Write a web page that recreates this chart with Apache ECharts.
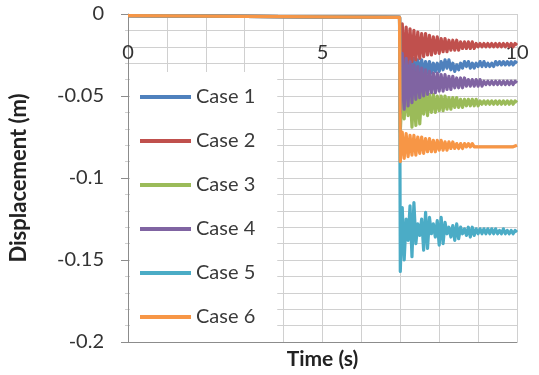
<!DOCTYPE html>
<html>
<head>
<meta charset="utf-8">
<script src="https://cdn.jsdelivr.net/npm/echarts@6/dist/echarts.min.js"></script>
<style>html,body{margin:0;padding:0;background:#fff}#c{width:539px;height:375px}</style>
</head>
<body>
<div id="c"></div>
<script>
var time = [0, 6.98,
 7.00,7.05,7.10,7.15,7.20,7.25,7.30,7.35,7.40,7.45,7.50,7.55,7.60,7.65,7.70,7.75,7.80,7.85,7.90,7.95,
 8.00,8.05,8.10,8.15,8.20,8.25,8.30,8.35,8.40,8.45,8.50,8.55,8.60,8.65,8.70,8.75,8.80,8.85,8.90,8.95,
 9.00,9.05,9.10,9.15,9.20,9.25,9.30,9.35,9.40,9.45,9.50,9.55,9.60,9.65,9.70,9.75,9.80,9.85,9.90,9.95,10.00];

var case1 = [-0.001,-0.002,
 -0.045,-0.020,-0.042,-0.024,-0.040,-0.026,-0.039,-0.027,-0.038,-0.028,-0.037,-0.028,-0.037,-0.029,-0.036,-0.029,-0.036,-0.030,-0.035,-0.030,
 -0.035,-0.029,-0.034,-0.028,-0.033,-0.028,-0.034,-0.030,-0.035,-0.031,-0.034,-0.030,-0.033,-0.029,-0.032,-0.029,-0.033,-0.030,-0.033,-0.030,
 -0.032,-0.029,-0.032,-0.029,-0.032,-0.030,-0.032,-0.030,-0.032,-0.029,-0.031,-0.029,-0.031,-0.029,-0.031,-0.029,-0.031,-0.029,-0.031,-0.029,-0.030];

var case2 = [-0.001,-0.002,
 -0.030,-0.006,-0.032,-0.008,-0.030,-0.009,-0.029,-0.010,-0.028,-0.011,-0.027,-0.012,-0.026,-0.012,-0.025,-0.013,-0.025,-0.014,-0.024,-0.014,
 -0.024,-0.015,-0.023,-0.015,-0.023,-0.016,-0.022,-0.016,-0.022,-0.016,-0.022,-0.017,-0.021,-0.017,-0.021,-0.017,-0.021,-0.017,-0.021,-0.018,
 -0.020,-0.018,-0.020,-0.018,-0.020,-0.018,-0.020,-0.018,-0.020,-0.018,-0.020,-0.018,-0.020,-0.018,-0.020,-0.018,-0.020,-0.018,-0.020,-0.018,-0.019];

var case3 = [-0.001,-0.002,
 -0.072,-0.044,-0.064,-0.045,-0.062,-0.046,-0.069,-0.047,-0.068,-0.047,-0.067,-0.048,-0.061,-0.048,-0.062,-0.049,-0.060,-0.049,-0.060,-0.050,
 -0.059,-0.050,-0.059,-0.050,-0.058,-0.051,-0.058,-0.051,-0.057,-0.051,-0.057,-0.052,-0.057,-0.052,-0.056,-0.052,-0.056,-0.052,-0.056,-0.052,
 -0.056,-0.053,-0.055,-0.053,-0.055,-0.053,-0.055,-0.053,-0.055,-0.053,-0.055,-0.053,-0.055,-0.053,-0.055,-0.053,-0.055,-0.053,-0.055,-0.053,-0.054];

var case4 = [-0.001,-0.002,
 -0.060,-0.024,-0.058,-0.027,-0.056,-0.029,-0.054,-0.031,-0.052,-0.032,-0.051,-0.033,-0.050,-0.034,-0.049,-0.035,-0.048,-0.036,-0.048,-0.036,
 -0.047,-0.037,-0.047,-0.037,-0.046,-0.038,-0.046,-0.038,-0.045,-0.039,-0.045,-0.039,-0.045,-0.039,-0.044,-0.040,-0.044,-0.040,-0.044,-0.040,
 -0.044,-0.040,-0.044,-0.041,-0.043,-0.041,-0.043,-0.041,-0.043,-0.041,-0.043,-0.041,-0.043,-0.041,-0.043,-0.041,-0.043,-0.041,-0.043,-0.041,-0.042];

var case5 = [-0.001,-0.002,
 -0.157,-0.118,-0.150,-0.125,-0.138,-0.117,-0.148,-0.115,-0.140,-0.128,-0.135,-0.125,-0.144,-0.121,-0.143,-0.124,-0.134,-0.128,-0.136,-0.126,
 -0.141,-0.124,-0.140,-0.127,-0.134,-0.130,-0.136,-0.129,-0.138,-0.128,-0.137,-0.130,-0.134,-0.131,-0.135,-0.130,-0.136,-0.130,-0.135,-0.131,
 -0.134,-0.131,-0.134,-0.131,-0.134,-0.131,-0.134,-0.131,-0.134,-0.131,-0.134,-0.132,-0.134,-0.131,-0.134,-0.132,-0.134,-0.132,-0.134,-0.132,-0.133];

var case6 = [-0.001,-0.002,
 -0.090,-0.072,-0.088,-0.073,-0.087,-0.074,-0.086,-0.074,-0.086,-0.075,-0.085,-0.075,-0.085,-0.076,-0.084,-0.076,-0.084,-0.077,-0.084,-0.077,
 -0.083,-0.077,-0.083,-0.078,-0.083,-0.078,-0.082,-0.078,-0.082,-0.079,-0.082,-0.079,-0.082,-0.079,-0.081,-0.079,-0.081,-0.079,-0.081,-0.080,
 -0.081,-0.080,-0.081,-0.080,-0.081,-0.080,-0.081,-0.080,-0.081,-0.080,-0.081,-0.080,-0.081,-0.080,-0.081,-0.080,-0.081,-0.080,-0.081,-0.080,-0.080];

var names = ['Case 1','Case 2','Case 3','Case 4','Case 5','Case 6'];
var colors = ['#4F81BD','#C0504D','#9BBB59','#8064A2','#4BACC6','#F79646'];
var cases = [case1, case2, case3, case4, case5, case6];
var xTicks = [0, 5, 10];
var yTicks = [0, -0.05, -0.1, -0.15, -0.2];

var chart = echarts.init(document.getElementById('c'));
var gridColor = '#d0d0d0';
var axisColor = '#8c8c8c';
var font = 'Lato, "Open Sans", sans-serif';

chart.setOption({
  animation: false,
  backgroundColor: '#fff',
  grid: {left: 127, right: 22, top: 14, bottom: 30, containLabel: false},
  legend: {
    orient: 'vertical', left: 130, top: 72,
    padding: [14, 22, 14, 10],
    backgroundColor: '#fff',
    itemWidth: 51, itemHeight: 4, itemGap: 22,
    icon: 'rect',
    textStyle: {fontFamily: font, fontSize: 20, color: '#3a3a3a', lineHeight: 22},
    data: names
  },
  xAxis: [{
    type: 'value', min: 0, max: 10, interval: 5, position: 'bottom',
    name: 'Time (s)', nameLocation: 'middle', nameGap: 7,
    nameTextStyle: {fontFamily: font, fontSize: 21, fontWeight: 'bold', color: '#222'},
    axisLine: {show: true, onZero: false, lineStyle: {color: axisColor}},
    axisTick: {show: false},
    axisLabel: {show: false},
    splitLine: {show: true, lineStyle: {color: gridColor}},
    minorTick: {show: false, splitNumber: 5},
    minorSplitLine: {show: true, lineStyle: {color: gridColor}}
  }, {
    type: 'value', min: 0, max: 10, interval: 5, position: 'top',
    axisLine: {show: false}, axisTick: {show: false},
    splitLine: {show: false},
    axisLabel: {show: true, inside: true, margin: 29, fontFamily: font, fontSize: 20, color: '#333',
      formatter: function (v) { return xTicks.indexOf(v) >= 0 ? String(v) : ''; }}
  }],
  yAxis: {
    type: 'value', min: -0.2, max: 0, interval: 0.05,
    name: 'Displacement (m)', nameLocation: 'middle', nameGap: 98, nameRotate: 90,
    nameTextStyle: {fontFamily: font, fontSize: 22, fontWeight: 'bold', color: '#222'},
    axisLine: {show: true, onZero: false, lineStyle: {color: axisColor}},
    axisTick: {show: true, length: 7, lineStyle: {color: axisColor}},
    minorTick: {show: true, splitNumber: 5, length: 3, lineStyle: {color: gridColor}},
    axisLabel: {margin: 24, fontFamily: font, fontSize: 20, color: '#333',
      formatter: function (v) { var r = +v.toFixed(2); return yTicks.indexOf(r) >= 0 ? String(r) : ''; }},
    splitLine: {show: true, lineStyle: {color: gridColor}},
    minorSplitLine: {show: true, lineStyle: {color: gridColor}}
  },
  series: cases.map(function (arr, k) {
    return {
      name: names[k], type: 'line', xAxisIndex: 0, showSymbol: false, symbol: 'none',
      color: colors[k],
      lineStyle: {width: 3.2, color: colors[k], join: 'round'},
      data: time.map(function (t, i) { return [t, arr[i]]; })
    };
  })
});
</script>
</body>
</html>
